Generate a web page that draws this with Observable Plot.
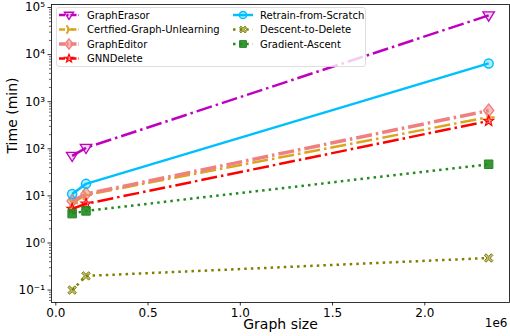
<!DOCTYPE html>
<html><head><meta charset="utf-8">
<script src="https://cdn.jsdelivr.net/npm/d3@7"></script>
<script src="https://cdn.jsdelivr.net/npm/@observablehq/plot@0.6"></script>
<style>
body{margin:0;background:#fff;font-family:"DejaVu Sans",sans-serif;}
#wrap{position:relative;width:510px;height:336px;}
#legend{position:absolute;left:0;top:0;}
</style></head><body><div id="wrap"></div>
<script>
// ---- data ----
const graphSizes = [88648, 163788, 2346000];
const methods = ["GraphErasor","Certfied-Graph-Unlearning","GraphEditor","GNNDelete","Retrain-from-Scratch","Descent-to-Delete","Gradient-Ascent"];
const graphErasor = [71, 105, 68000];
const certified = [7, 10.5, 470];
const graphEditor = [7.8, 11, 650];
const gnnDelete = [5.3, 6.8, 390];
const retrain = [11, 18, 6500];
const descent = [0.1, 0.2, 0.48];
const gradient = [4.2, 4.8, 47];
const yTicks = [0.1, 1, 10, 100, 1000, 10000, 100000];
const yTickLabels = ["10\u207B\u00B9","10\u2070","10\u00B9","10\u00B2","10\u00B3","10\u2074","10\u2075"];
const xTicks = [0, 500000, 1000000, 1500000, 2000000];
const xTickLabels = ["0.0","0.5","1.0","1.5","2.0"];

// ---- symbols ----
const rad = s => Math.sqrt(s / Math.PI);
const triDown = {draw(c, s){const r=rad(s)*1.15; c.moveTo(-r,-r*0.6); c.lineTo(r,-r*0.6); c.lineTo(0,r); c.closePath();}};
const triRight = {draw(c, s){const r=rad(s)*1.2; c.moveTo(0,0); c.lineTo(r,0); c.moveTo(0,0); c.lineTo(-r*0.5,-r*0.87); c.moveTo(0,0); c.lineTo(-r*0.5,r*0.87);}};
const diamond = {draw(c, s){const r=rad(s)*1.3; c.moveTo(0,-r); c.lineTo(r*0.8,0); c.lineTo(0,r); c.lineTo(-r*0.8,0); c.closePath();}};
const star = {draw(c, s){const R=rad(s)*1.1, r=R*0.42; for(let k=0;k<10;k++){const a=-Math.PI/2+k*Math.PI/5, q=k%2?r:R; k?c.lineTo(q*Math.cos(a),q*Math.sin(a)):c.moveTo(q*Math.cos(a),q*Math.sin(a));} c.closePath();}};
const xFilled = {draw(c, s){const r=rad(s)*0.85, w=r*0.38; const pts=[[0,-w],[r-w,-r],[r,-r+w],[w,0],[r,r-w],[r-w,r],[0,w],[-r+w,r],[-r,r-w],[-w,0],[-r,-r+w],[-r+w,-r]]; c.moveTo(...pts[0]); pts.slice(1).forEach(p=>c.lineTo(...p)); c.closePath();}};
const circle = {draw(c, s){const r=rad(s)*0.9; c.moveTo(r,0); c.arc(0,0,r,0,2*Math.PI);}};
const square = {draw(c, s){const r=rad(s)*0.85; c.rect(-r,-r,2*r,2*r);}};

const DD = "16,4,2.5,4", DOT = "2.5,4.1";
const styles = [
  {color:"#bf00bf", dash:DD, w:2.5, sym:triDown, fo:0.15, sw:1.3},
  {color:"#daa520", dash:DD, w:2.5, sym:triRight, fo:0, sw:2},
  {color:"#f08080", dash:DD, w:3.5, sym:diamond, fo:0.5, sw:1.3},
  {color:"#ff0000", dash:DD, w:2.5, sym:star, fo:0.4, sw:1.1},
  {color:"#00bfff", dash:null, w:2.5, sym:circle, fo:0.3, sw:1.5},
  {color:"#808000", dash:DOT, w:2.5, sym:xFilled, fo:0.5, sw:1},
  {color:"#228b22", dash:DOT, w:2.5, sym:square, fo:0.9, sw:1}
];

const seriesValues = [graphErasor, certified, graphEditor, gnnDelete, retrain, descent, gradient];
const series = methods.map((m, i) => graphSizes.map((x, j) => ({method: m, x, y: seriesValues[i][j]})));

const minorTicks = [];
for (let e = -2; e <= 5; e++) for (let k = 2; k <= 9; k++) { const v = k * Math.pow(10, e); if (v > 0.0545 && v < 115000) minorTicks.push(v); }

const marks = [];
series.forEach((data, i) => {
  const s = styles[i];
  marks.push(Plot.line(data, {x:"x", y:"y", stroke:s.color, strokeWidth:s.w, strokeDasharray:s.dash, strokeLinecap:"butt"}));
});
series.forEach((data, i) => {
  const s = styles[i];
  marks.push(Plot.dot(data, {x:"x", y:"y", r:5, symbol:s.sym, stroke:s.color, strokeWidth:s.sw, fill:s.color, fillOpacity:s.fo}));
});
marks.push(
  Plot.frame({stroke:"black", strokeWidth:0.8}),
  Plot.axisX({ticks:xTicks, tickFormat:(d)=>xTickLabels[xTicks.indexOf(d)], tickSize:3.5, tickPadding:2, label:null, fontSize:12, strokeWidth:0.8}),
  Plot.axisY({ticks:yTicks, tickFormat:(d)=>yTickLabels[yTicks.indexOf(d)], tickSize:3.5, tickPadding:3, label:null, fontSize:12, strokeWidth:0.8}),
  Plot.axisY({ticks:minorTicks, tickFormat:()=>"", tickSize:2, label:null, strokeWidth:0.6}),
  Plot.text(["Graph size"], {frameAnchor:"bottom", dy:26.5, fontSize:14}),
  Plot.text(["Time (min)"], {frameAnchor:"left", rotate:-90, dx:-39, fontSize:14}),
  Plot.text(["1e6"], {frameAnchor:"bottom-right", dy:24, textAnchor:"end", fontSize:12, dx:-2})
);

const chart = Plot.plot({
  width:510, height:336,
  marginLeft:51, marginRight:1, marginTop:4, marginBottom:34,
  style:{fontFamily:"DejaVu Sans", fontSize:"12px", color:"black", background:"white"},
  x:{domain:[-23300, 2459000], axis:null},
  y:{type:"log", domain:[0.0545, 115900], axis:null},
  marks
});
const wrap = document.getElementById("wrap");
wrap.appendChild(chart);

// ---- legend overlay ----
const lg = d3.select(wrap).append("svg").attr("id","legend").attr("width",510).attr("height",336)
  .style("font-family","DejaVu Sans").style("font-size","10px");
lg.append("rect").attr("x",56.5).attr("y",7.5).attr("width",309).attr("height",59).attr("rx",2.5)
  .attr("fill","white").attr("fill-opacity",0.8).attr("stroke","#d6d6d6").attr("stroke-width",0.8);
const rowsY = [15, 29.5, 44, 58.5];
methods.forEach((m, i) => {
  const col = i < 4 ? 0 : 1, row = i < 4 ? i : i - 4;
  const hx = col === 0 ? 59 : 233, tx = col === 0 ? 87 : 260, y = rowsY[row];
  const s = styles[i];
  lg.append("line").attr("x1",hx).attr("x2",hx+20).attr("y1",y).attr("y2",y)
    .attr("stroke",s.color).attr("stroke-width",s.w).attr("stroke-dasharray",s.dash ? (s.dash===DD ? "6,2,1.5,2" : "2.5,4.1") : null);
  lg.append("path").attr("transform",`translate(${hx+10},${y})`).attr("d",d3.symbol(s.sym, 16*Math.PI)())
    .attr("fill",s.color).attr("fill-opacity",s.fo).attr("stroke",s.color).attr("stroke-width",s.sw);
  lg.append("text").attr("x",tx).attr("y",y).attr("dy","0.35em").text(m);
});
</script></body></html>
